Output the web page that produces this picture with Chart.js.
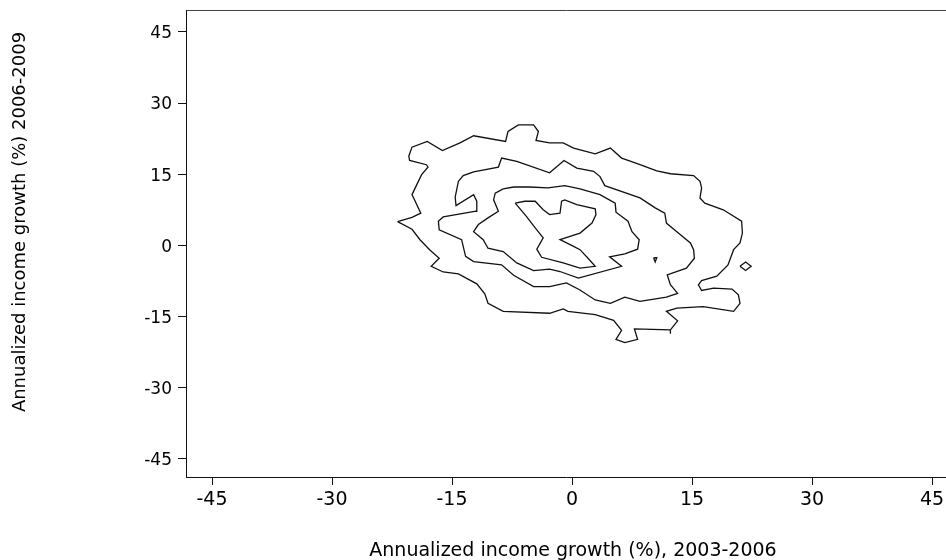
<!DOCTYPE html>
<html>
<head>
<meta charset="utf-8">
<title>Income growth contours</title>
<script src="https://cdn.jsdelivr.net/npm/chart.js@4.4.1/dist/chart.umd.min.js"></script>
<style>
    html, body { margin: 0; padding: 0; background: #fff; }
    #chart { display: block; }
</style>
</head>
<body>
<canvas id="chart" width="946" height="560"></canvas>
<script>
// Axis ticks
const xTicks = [-45, -30, -15, 0, 15, 30, 45];
const yTicks = [-45, -30, -15, 0, 15, 30, 45];

// Contour lines, [x, y] in % (outermost first)
const contour1 = [
    [-21.8, 5.0], [-20.0, 5.9], [-18.9, 6.8], [-20.0, 10.7], [-19.4, 12.8], [-18.8, 14.9],
    [-18.0, 16.5], [-18.2, 17.0], [-20.3, 17.9], [-20.4, 18.8], [-20.0, 20.7], [-18.1, 21.9],
    [-16.2, 20.0], [-14.0, 21.6], [-12.3, 23.1], [-8.3, 21.9], [-8.0, 24.0], [-6.7, 25.4],
    [-4.8, 25.4], [-4.2, 24.0], [-4.5, 22.1], [-2.8, 21.6], [-1.1, 21.6], [0.2, 20.5],
    [2.9, 19.3], [4.8, 20.5], [6.2, 18.4], [7.9, 17.4], [10.6, 15.7], [12.3, 15.1],
    [15.2, 14.7], [16.0, 13.5], [16.2, 12.1], [16.0, 10.0], [16.6, 8.9], [18.9, 7.5],
    [21.2, 5.1], [21.3, 2.6], [21.0, 0.5], [20.2, -0.9], [19.5, -4.1], [18.1, -6.5],
    [16.2, -7.4], [15.8, -8.3], [16.2, -9.5], [17.7, -9.0], [20.0, -9.2], [20.8, -10.4],
    [21.0, -12.2], [20.2, -13.9], [16.4, -12.9], [13.1, -13.2], [11.8, -13.9], [13.2, -15.9],
    [12.3, -17.8], [12.3, -18.6], [12.3, -17.8], [7.8, -17.6], [8.2, -19.8], [6.6, -20.5],
    [5.5, -19.8], [6.2, -17.9], [5.2, -15.8], [2.9, -14.6], [-0.5, -13.9], [-1.1, -13.4],
    [-2.8, -14.3], [-8.6, -13.9], [-10.5, -12.2], [-10.9, -10.2], [-11.9, -8.1], [-14.2, -6.0],
    [-16.1, -5.6], [-17.6, -4.4], [-16.6, -2.7], [-17.8, -0.9], [-19.0, 1.2], [-20.0, 3.4],
    [-21.8, 5.0]
];

const contour2 = [
    [-14.2, 13.5], [-13.6, 14.7], [-12.3, 15.5], [-9.2, 16.5], [-8.8, 18.4], [-6.9, 17.7],
    [-2.8, 15.3], [-1.0, 17.9], [0.6, 16.3], [2.7, 15.6], [3.5, 14.5], [4.1, 12.6],
    [8.5, 10.0], [10.4, 7.9], [11.6, 6.8], [11.8, 4.7], [13.1, 2.9], [14.8, 0.5],
    [15.2, -0.9], [15.3, -2.7], [14.3, -4.8], [11.9, -6.2], [12.3, -8.3], [13.2, -10.1],
    [11.8, -10.9], [8.5, -11.8], [6.6, -10.9], [4.8, -12.2], [2.9, -11.5], [1.0, -9.4],
    [-0.7, -7.9], [-2.8, -8.7], [-4.8, -8.7], [-7.3, -6.3], [-8.8, -4.1], [-12.3, -3.4],
    [-13.3, -2.3], [-13.8, 1.2], [-16.6, 3.3], [-16.7, 5.1], [-16.1, 6.0], [-12.0, 7.2],
    [-11.9, 9.3], [-12.3, 10.7], [-14.5, 8.4], [-14.6, 10.2], [-14.2, 13.5]
];

const contour3 = [
    [-8.6, 11.9], [-7.3, 12.3], [-5.3, 12.3], [-3.0, 12.1], [-0.9, 12.6], [1.0, 11.9],
    [3.5, 10.7], [5.4, 8.9], [5.5, 7.0], [7.0, 5.1], [7.5, 2.9], [8.4, 1.2],
    [8.2, -0.8], [6.6, -1.8], [4.7, -2.4], [6.2, -4.4], [0.8, -6.9], [-1.5, -5.5],
    [-2.8, -5.0], [-4.8, -5.3], [-6.9, -3.7], [-8.6, -1.3], [-10.5, -0.6], [-11.1, 1.2],
    [-12.3, 2.9], [-11.7, 4.4], [-10.5, 5.8], [-9.2, 7.2], [-9.8, 9.6], [-9.6, 11.0],
    [-8.6, 11.9]
];

const contour4 = [
    [-7.1, 8.9], [-5.9, 9.3], [-4.6, 9.3], [-3.6, 7.5], [-2.8, 6.5], [-1.5, 6.8],
    [-1.3, 9.3], [-0.9, 9.6], [0.6, 8.6], [2.9, 7.7], [3.0, 6.5], [2.5, 4.7],
    [1.0, 2.6], [-1.5, 1.2], [0.2, -0.2], [1.0, -0.9], [2.0, -2.7], [2.9, -4.4],
    [1.0, -4.8], [-1.1, -3.7], [-3.8, -2.5], [-4.4, -0.8], [-3.6, 1.6], [-4.6, 3.7],
    [-5.7, 6.1], [-7.1, 8.9]
];

// small isolated islands
const islandA = [[10.2, -2.6], [10.6, -2.6], [10.4, -3.5], [10.2, -2.6]];
const islandB = [[21.0, -4.4], [21.7, -3.5], [22.4, -4.4], [21.7, -5.3], [21.0, -4.4]];

const xTitle = 'Annualized income growth (%), 2003-2006';
const yTitle = 'Annualized income growth (%) 2006-2009';

const toPoints = arr => arr.map(p => ({ x: p[0], y: p[1] }));

const makeSet = arr => ({
    data: toPoints(arr),
    showLine: true,
    borderColor: '#111',
    borderWidth: 1.3,
    pointRadius: 0,
    tension: 0,
    fill: false
});

// axis titles (placed like the original, not centred on the plot area)
// and keep the frame open on the right side
const titlePlugin = {
    id: 'axisTitles',
    afterDraw: chart => {
        const ctx = chart.ctx;
        const area = chart.chartArea;
        ctx.save();
        ctx.fillStyle = '#fff';
        ctx.fillRect(area.right - 3, area.top + 2, 3, area.bottom - area.top - 3);

        ctx.fillStyle = '#000';
        ctx.font = '19px "DejaVu Sans"';
        ctx.textAlign = 'center';
        ctx.textBaseline = 'alphabetic';
        ctx.fillText(xTitle, chart.scales.x.getPixelForValue(0) + 1, 556);

        ctx.translate(25, 222);
        ctx.rotate(-Math.PI / 2);
        ctx.font = '18px "DejaVu Sans"';
        ctx.fillText(yTitle, 0, 0);
        ctx.restore();
    }
};

const fixTicks = values => scale => {
    scale.ticks = values.map(v => ({ value: v }));
};

const tickFont = size => ({ family: 'DejaVu Sans', size });

const xMin = -48.25;
const xMax = 46.75;

new Chart(document.getElementById('chart').getContext('2d'), {
    type: 'scatter',
    data: {
        datasets: [contour1, contour2, contour3, contour4, islandA, islandB].map(makeSet)
    },
    options: {
        responsive: false,
        animation: false,
        devicePixelRatio: 1,
        layout: { padding: { top: 10, left: 0, right: 0, bottom: 0 } },
        plugins: {
            legend: { display: false },
            tooltip: { enabled: false }
        },
        scales: {
            x: {
                type: 'linear',
                min: xMin,
                max: xMax,
                afterBuildTicks: fixTicks(xTicks),
                afterFit: scale => {
                    scale.height = 83;
                    scale.paddingLeft = 0;
                    scale.paddingRight = 0;
                },
                border: { display: true, color: '#111', width: 1 },
                grid: { drawOnChartArea: false, drawTicks: true, tickLength: 8, color: '#111' },
                ticks: { color: '#000', font: tickFont(19), padding: 4, maxRotation: 0, autoSkip: false }
            },
            // top frame line only
            xTop: {
                type: 'linear',
                position: 'top',
                min: xMin,
                max: xMax,
                afterBuildTicks: scale => { scale.ticks = []; },
                afterFit: scale => {
                    scale.height = 0;
                    scale.paddingLeft = 0;
                    scale.paddingRight = 0;
                },
                border: { display: true, color: '#444', width: 1 },
                grid: { display: false },
                ticks: { display: false }
            },
            y: {
                type: 'linear',
                min: -48.8,
                max: 49.6,
                afterBuildTicks: fixTicks(yTicks),
                afterFit: scale => {
                    scale.width = 186;
                    scale.paddingTop = 0;
                    scale.paddingBottom = 0;
                },
                border: { display: true, color: '#111', width: 1 },
                grid: { drawOnChartArea: false, drawTicks: true, tickLength: 8, color: '#111' },
                ticks: { color: '#000', font: tickFont(17), padding: 6, labelOffset: 2, autoSkip: false }
            }
        }
    },
    plugins: [titlePlugin]
});
</script>
</body>
</html>
